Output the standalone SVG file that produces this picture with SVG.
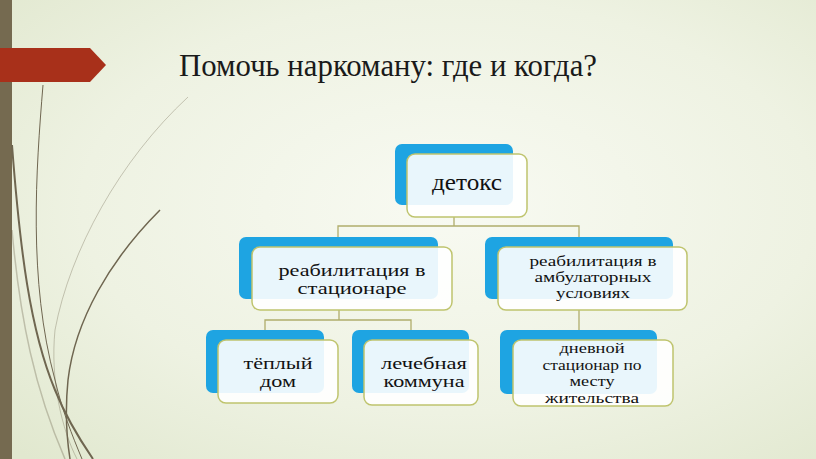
<svg xmlns="http://www.w3.org/2000/svg" width="816" height="459" viewBox="0 0 816 459">
<defs>
<radialGradient id="bg" cx="0.55" cy="0.45" r="0.75">
<stop offset="0" stop-color="#f8faf2"/>
<stop offset="0.6" stop-color="#eef2e2"/>
<stop offset="1" stop-color="#e1e8cf"/>
</radialGradient>
<style>
.back{fill:#1ea4e2}
.front{fill:#ffffff;fill-opacity:0.9;stroke:#bfc46e;stroke-width:1.5}
.conn{fill:none;stroke:#b0ad6c;stroke-width:1.3}
.t{font-family:'Liberation Serif',serif;fill:#111;text-anchor:middle}
.curve{fill:none;stroke:#6f6650}
</style>
</defs>
<rect width="816" height="459" fill="url(#bg)"/>
<g id="decoration">
<rect x="0" y="0" width="12" height="459" fill="#756a50"/>
<path class="curve" stroke-width="1" d="M43,85 C36,170 28,280 55,380 C62,410 72,435 82,459"/>
<path class="curve" stroke-width="2" d="M12,145 C20,250 30,330 55,390 C65,415 80,440 93,459"/>
<path class="curve" stroke-width="1.5" d="M160,210 C110,260 75,320 68,380 C65,410 67,440 70,459"/>
<path class="curve" stroke-width="1" stroke-opacity="0.35" d="M188,97 C120,160 70,250 55,330 C50,380 62,430 77,459"/>
<path class="curve" stroke-width="1.5" stroke-opacity="0.35" d="M12,230 C20,320 35,390 65,459"/>
<path d="M0,48 L90,48 L106,65 L90,82 L0,82 Z" fill="#a8301a"/>
</g>
<text id="title" x="179" y="76" font-family="'Liberation Serif', serif" font-size="31" fill="#1a1a1a" textLength="418" lengthAdjust="spacingAndGlyphs">Помочь наркоману: где и когда?</text>
<g id="connectors">
<path class="conn" d="M454,217 V226 M338,237 V226 H579 V237"/>
<path class="conn" d="M339,310 V320 M265,330 V320 H411 V330"/>
<path class="conn" d="M579,310 V330"/>
</g>
<g id="node-detox">
<rect class="back" x="395" y="144" width="118" height="61" rx="7"/>
<rect class="front" x="407" y="154" width="120" height="63" rx="8"/>
<text class="t" x="467" y="190" font-size="24" textLength="70" lengthAdjust="spacingAndGlyphs">детокс</text>
</g>
<g id="node-stationary">
<rect class="back" x="239" y="237" width="199" height="62" rx="7"/>
<rect class="front" x="252" y="247" width="200" height="63" rx="8"/>
<text class="t" x="352" y="276" font-size="17" textLength="147" lengthAdjust="spacingAndGlyphs">реабилитация в</text>
<text class="t" x="352" y="294" font-size="17" textLength="109" lengthAdjust="spacingAndGlyphs">стационаре</text>
</g>
<g id="node-ambulatory">
<rect class="back" x="485" y="237" width="188" height="62" rx="7"/>
<rect class="front" x="498" y="247" width="189" height="63" rx="8"/>
<text class="t" x="593" y="266" font-size="15" textLength="127" lengthAdjust="spacingAndGlyphs">реабилитация в</text>
<text class="t" x="593" y="282" font-size="15" textLength="117" lengthAdjust="spacingAndGlyphs">амбулаторных</text>
<text class="t" x="593" y="298" font-size="15" textLength="74" lengthAdjust="spacingAndGlyphs">условиях</text>
</g>
<g id="node-warm-house">
<rect class="back" x="206" y="330" width="118" height="63" rx="7"/>
<rect class="front" x="218" y="340" width="120" height="63" rx="8"/>
<text class="t" x="278" y="369" font-size="17" textLength="69" lengthAdjust="spacingAndGlyphs">тёплый</text>
<text class="t" x="278" y="387" font-size="17" textLength="36" lengthAdjust="spacingAndGlyphs">дом</text>
</g>
<g id="node-commune">
<rect class="back" x="352" y="330" width="117" height="63" rx="7"/>
<rect class="front" x="364" y="340" width="114" height="65" rx="8"/>
<text class="t" x="424" y="369" font-size="17" textLength="86" lengthAdjust="spacingAndGlyphs">лечебная</text>
<text class="t" x="424" y="387" font-size="17" textLength="81" lengthAdjust="spacingAndGlyphs">коммуна</text>
</g>
<g id="node-day-hospital">
<rect class="back" x="500" y="330" width="157" height="64" rx="7"/>
<rect class="front" x="513" y="340" width="160" height="66" rx="8"/>
<text class="t" x="592" y="353" font-size="15" textLength="65" lengthAdjust="spacingAndGlyphs">дневной</text>
<text class="t" x="592" y="370" font-size="15" textLength="99" lengthAdjust="spacingAndGlyphs">стационар по</text>
<text class="t" x="592" y="386" font-size="15" textLength="45" lengthAdjust="spacingAndGlyphs">месту</text>
<text class="t" x="592" y="403" font-size="15" textLength="94" lengthAdjust="spacingAndGlyphs">жительства</text>
</g>
</svg>
